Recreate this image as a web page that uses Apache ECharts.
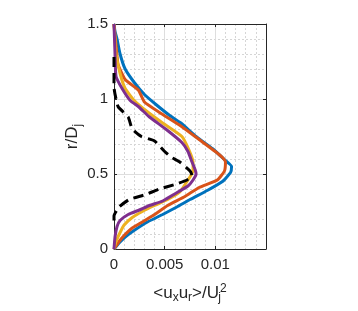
<!DOCTYPE html>
<html>
<head>
<meta charset="utf-8">
<script src="https://cdn.jsdelivr.net/npm/echarts@6/dist/echarts.min.js"></script>
<style>
  html, body { margin: 0; padding: 0; background: #fff; }
  #chart { width: 358px; height: 311px; }
</style>
</head>
<body>
<div id="chart"></div>
<script>
// <u_x u_r>/U_j^2 profiles over r/D_j
const blueX = [0, 0.0001, 0.0003, 0.0006, 0.0011, 0.002, 0.003, 0.0042, 0.0055, 0.0066, 0.0081, 0.0097, 0.011, 0.0116, 0.0115, 0.0107, 0.0092, 0.0075, 0.0062, 0.0048, 0.0033, 0.0019, 0.0011, 0.0005, 0];
const blueR = [1.5, 1.45, 1.4, 1.3, 1.2, 1.11, 1.03, 0.96, 0.89, 0.84, 0.75, 0.67, 0.59, 0.55, 0.51, 0.45, 0.39, 0.33, 0.28, 0.23, 0.18, 0.12, 0.08, 0.04, 0];

const orangeX = [0, 0.0001, 0.0002, 0.0004, 0.0011, 0.0024, 0.003, 0.0045, 0.0066, 0.0084, 0.01, 0.0107, 0.011, 0.0109, 0.0102, 0.0084, 0.007, 0.0053, 0.004, 0.0028, 0.0018, 0.001, 0.0005, 0];
const orangeR = [1.5, 1.42, 1.36, 1.23, 1.13, 1.06, 0.98, 0.91, 0.82, 0.73, 0.65, 0.61, 0.58, 0.52, 0.46, 0.41, 0.35, 0.29, 0.23, 0.18, 0.14, 0.09, 0.05, 0];

const yellowX = [0, 0.0001, 0.0002, 0.0006, 0.0011, 0.002, 0.0032, 0.0048, 0.0067, 0.0074, 0.0078, 0.0078, 0.0071, 0.0065, 0.0053, 0.004, 0.0028, 0.0018, 0.001, 0.0006, 0.0002, 0];
const yellowR = [1.5, 1.4, 1.3, 1.17, 1.07, 0.99, 0.92, 0.84, 0.75, 0.66, 0.58, 0.52, 0.44, 0.38, 0.33, 0.29, 0.25, 0.21, 0.16, 0.11, 0.05, 0];

const purpleX = [0, 0.0001, 0.0002, 0.0008, 0.0016, 0.0024, 0.0035, 0.0051, 0.0067, 0.0073, 0.0077, 0.008, 0.0081, 0.0078, 0.0073, 0.0058, 0.0048, 0.0035, 0.0025, 0.0014, 0.0006, 0.0003, 0.0001, 0];
const purpleR = [1.5, 1.3, 1.15, 1.07, 0.99, 0.95, 0.88, 0.8, 0.71, 0.65, 0.58, 0.53, 0.5, 0.46, 0.42, 0.36, 0.32, 0.29, 0.26, 0.23, 0.19, 0.15, 0.08, 0];

const blackX = [0, 0, 0.0004, 0.0014, 0.0018, 0.0027, 0.004, 0.005, 0.0057, 0.0065, 0.0075, 0.0077, 0.0072, 0.006, 0.0045, 0.003, 0.0015, 0.0005, 0, 0];
const blackR = [1.28, 1.08, 0.95, 0.88, 0.8, 0.75, 0.72, 0.65, 0.61, 0.58, 0.52, 0.49, 0.46, 0.43, 0.4, 0.36, 0.33, 0.28, 0.22, 0.17];

const xTicks = [0, 0.005, 0.01];
const yTicks = [0, 0.5, 1, 1.5];

const pairs = (xs, rs) => xs.map((x, i) => [x, rs[i]]);
const font = 'Liberation Sans';
const ink = '#262626';

const chart = echarts.init(document.getElementById('chart'));

const baseAxis = {
  type: 'value',
  axisLine: { show: true, onZero: false, lineStyle: { color: ink, width: 1 } },
  axisTick: { show: true, inside: true, length: 3, lineStyle: { color: ink } },
  minorTick: { show: false, splitNumber: 5 },
  splitLine: { show: false },
  minorSplitLine: { show: false }
};

const mkLine = (name, xs, rs, color, dashed) => ({
  name: name,
  type: 'line',
  data: pairs(xs, rs),
  showSymbol: false,
  symbol: 'none',
  smooth: 0.15,
  lineStyle: { color: color, width: 3, type: dashed ? [10, 6] : 'solid' },
  silent: true,
  animation: false,
  z: 3
});

const subStyle = { fontSize: 12, fontFamily: font, color: ink, verticalAlign: 'bottom', padding: [9, 0, 0, 0] };

chart.setOption({
  animation: false,
  grid: { left: 114, right: 92, top: 24, bottom: 62 },
  xAxis: [
    Object.assign({}, baseAxis, {
      position: 'bottom',
      min: 0, max: 0.015, interval: 0.005,
      axisLabel: {
        color: ink, fontFamily: font, fontSize: 15, margin: 8,
        formatter: v => xTicks.includes(+v.toFixed(4)) ? String(+v.toFixed(4)) : ''
      },
      splitLine: { show: true, lineStyle: { color: '#dedede', width: 1 } },
      minorSplitLine: { show: true, lineStyle: { color: '#d6d6d6', width: 1, type: [2, 2] } },
      name: '<u{sub|x}u{sub|r}>/U{sj|j}{sup|2}',
      nameLocation: 'middle',
      nameGap: 34,
      nameTextStyle: {
        color: ink, fontFamily: font, fontSize: 17,
        rich: {
          sub: subStyle,
          sj: Object.assign({}, subStyle, { width: 1, align: 'left' }),
          sup: { fontSize: 12, fontFamily: font, color: ink, verticalAlign: 'top', padding: [0, 0, 9, 0] }
        }
      }
    }),
    Object.assign({}, baseAxis, {
      position: 'top',
      min: 0, max: 0.015, interval: 0.005,
      axisLabel: { show: false }
    })
  ],
  yAxis: [
    Object.assign({}, baseAxis, {
      position: 'left',
      min: 0, max: 1.5, interval: 0.5,
      axisLabel: {
        color: ink, fontFamily: font, fontSize: 15, margin: 6,
        formatter: v => yTicks.includes(v) ? String(v) : ''
      },
      splitLine: { show: true, lineStyle: { color: '#dedede', width: 1 } },
      minorSplitLine: { show: true, lineStyle: { color: '#d6d6d6', width: 1, type: [2, 2] } },
      name: 'r/D{sub|j}',
      nameLocation: 'middle',
      nameGap: 28,
      nameRotate: 90,
      nameTextStyle: {
        color: ink, fontFamily: font, fontSize: 17,
        rich: { sub: subStyle }
      }
    }),
    Object.assign({}, baseAxis, {
      position: 'right',
      min: 0, max: 1.5, interval: 0.5,
      axisLabel: { show: false }
    })
  ],
  series: [
    mkLine('blue', blueX, blueR, '#0072BD', false),
    mkLine('orange', orangeX, orangeR, '#D95319', false),
    mkLine('yellow', yellowX, yellowR, '#EDB120', false),
    mkLine('purple', purpleX, purpleR, '#7E2F8E', false),
    mkLine('black', blackX, blackR, '#000000', true)
  ]
});
</script>
</body>
</html>
